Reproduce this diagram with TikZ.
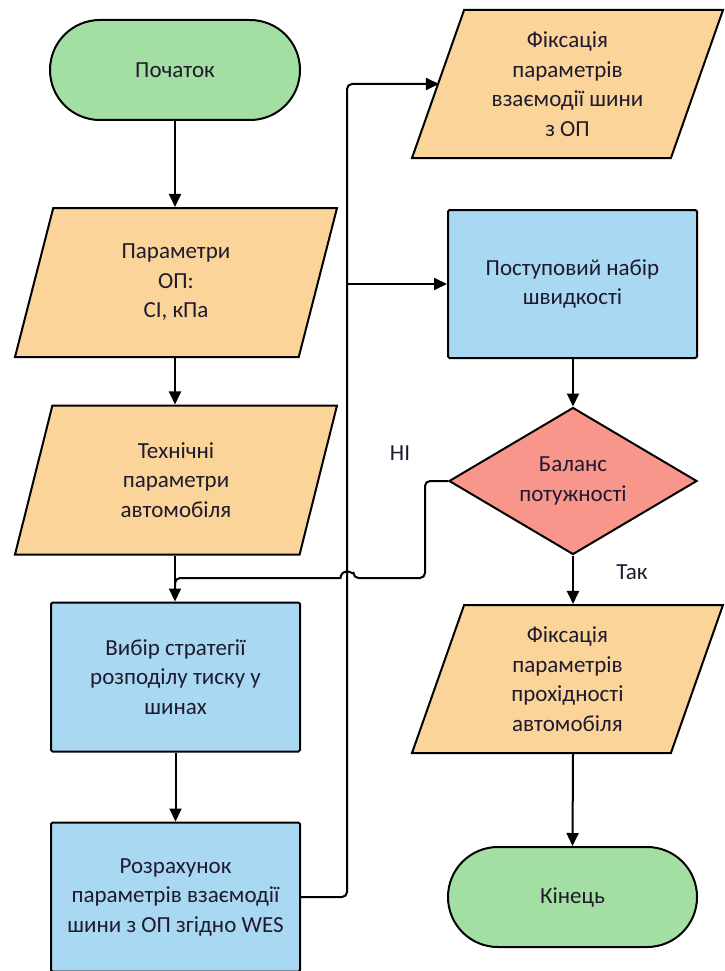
\documentclass[tikz,border=0pt]{standalone}
\usepackage{fontspec}
\setmainfont{Carlito}
\usetikzlibrary{shapes.geometric,arrows.meta,calc}
\definecolor{termgreen}{RGB}{163,223,162}
\definecolor{ioorange}{RGB}{250,212,153}
\definecolor{procblue}{RGB}{168,216,242}
\definecolor{decred}{RGB}{248,150,140}
\definecolor{txt}{RGB}{32,26,46}
\tikzset{
  base/.style={draw=black, line width=2pt, inner sep=0pt, align=center, text=txt,
    font=\fontsize{23}{29.5}\selectfont},
  term/.style={base, fill=termgreen, rectangle, rounded corners=49.9pt,
    minimum width=250pt, minimum height=100pt},
  io/.style={base, fill=ioorange, trapezium, trapezium left angle=63.5,
    trapezium right angle=116.5, trapezium stretches body,
    minimum width=322pt, minimum height=149pt},
  proc/.style={base, fill=procblue, rectangle, rounded corners=1.5pt,
    minimum width=249pt, minimum height=149pt},
  dec/.style={base, fill=decred, diamond, minimum width=248pt, minimum height=147pt},
  conn/.style={line width=2pt, rounded corners=5pt},
  arr/.style={conn, -{Triangle[length=13pt,width=12pt]}},
  lbl/.style={text=txt, font=\fontsize{23}{29.5}\selectfont, inner sep=0pt, align=center}
}
\begin{document}
\begin{tikzpicture}[x=1pt,y=-1pt]
\useasboundingbox (0,0) rectangle (724,971);
\fill[white] (0,0) rectangle (724,971);

\node[term] (start) at (175,70) {Початок};
\node[io] (para1) at (176,282.5) {Параметри\\ОП:\\СІ,~кПа};
\node[io] (para2) at (176,480) {Технічні\\параметри\\автомобіля};
\node[proc] (box3) at (175.5,677) {Вибір стратегії\\розподілу тиску у\\шинах};
\node[proc] (box4) at (175.5,897) {Розрахунок\\параметрів взаємодії\\шини з ОП згідно WES};

\node[io, minimum width=311pt, minimum height=148pt] (para5) at (567.5,84) {Фіксація\\параметрів\\взаємодії шини\\з ОП};
\node[proc, minimum height=148pt] (box6) at (572.5,284) {Поступовий набір\\швидкості};
\node[dec, label={[lbl]center:Баланс\\потужності}] (dia) at (573,481) {};
\node[io, minimum width=311pt, minimum height=148pt] (para7) at (567.5,679) {Фіксація\\параметрів\\прохідності\\автомобіля};
\node[term, minimum width=249pt] (fin) at (572.5,897) {Кінець};

\node[lbl] (no) at (400,453) {НІ};
\node[lbl] (yes) at (632,572) {Так};

\coordinate (trunk) at (347,0);
\coordinate (loopx) at (425,0);
\coordinate (joinpt) at (175,578);

\draw[arr] (start) -- (start |- para1.north);
\draw[arr] (para1.south -| start) -- (start |- para2.north);
\draw[arr] (para2.south -| start) -- (start |- box3.north);
\draw[arr] (box3) -- (box4.north -| box3);

\draw[conn] (box4.east) -- (trunk |- box4.east) -- (trunk |- para5.west) -- (para5.west);
\draw[arr] ($(trunk |- para5.west)+(20,0)$) -- ($(para5.west)+(2,0)$);
\draw[arr] (trunk |- box6.west) -- (box6.west);

\draw[arr] (box6.south -| dia) -- (dia.north);
\draw[arr] (dia.south) -- (dia.south |- para7.north);
\draw[arr] (para7.south -| dia) -- (fin.north);

\draw[conn] (dia.west) -- (loopx |- dia.west) -- (loopx |- joinpt) -- ($(trunk |- joinpt)+(6.5,0)$)
  [sharp corners] arc[start angle=0, end angle=-180, radius=6.5]
  [rounded corners=5pt] -- (joinpt) -- ($(joinpt)+(0,12)$);
\end{tikzpicture}
\end{document}
